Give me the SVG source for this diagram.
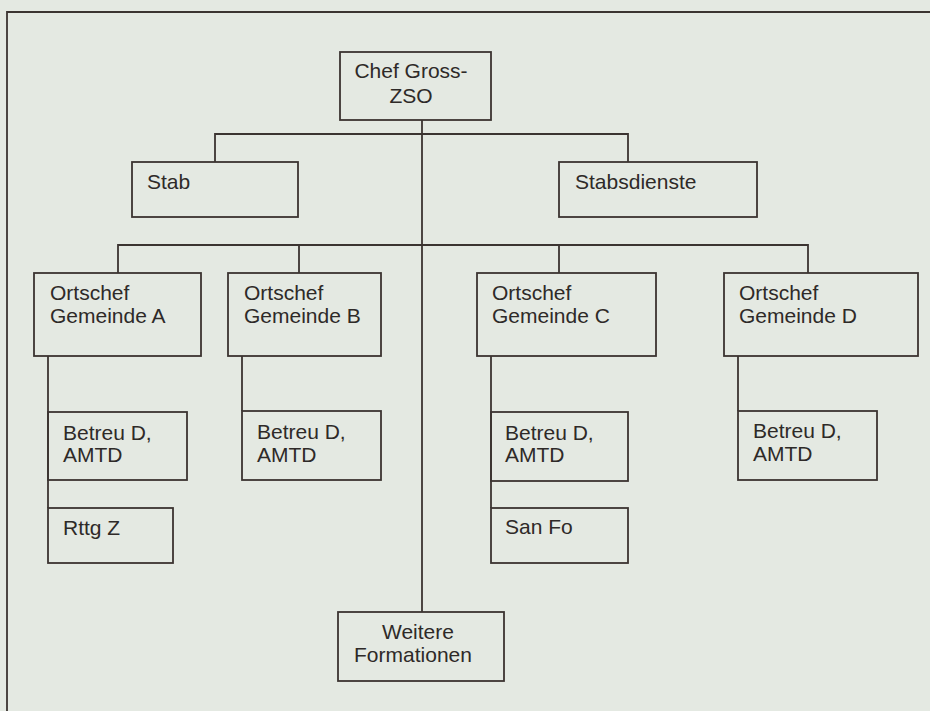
<svg xmlns="http://www.w3.org/2000/svg" width="930" height="711" viewBox="0 0 930 711">
<style>
.box{fill:none;stroke:#3b3431;stroke-width:1.8}
.ln{fill:none;stroke:#3b3431;stroke-width:1.8}
text{font-family:"Liberation Sans",Arial,sans-serif;font-size:21px;fill:#2e2a28}
.c{text-anchor:middle}
</style>
<rect x="0" y="0" width="930" height="711" fill="#e4e9e2"/>
<path class="ln" d="M7 711 V12 H930" stroke="#4a4a4a"/>
<g id="connectors">
<path class="ln" d="M422 120 V612"/>
<path class="ln" d="M215 162 V134 H628 V162"/>
<path class="ln" d="M118 273 V245 H808 V273 M299 245 V273 M559 245 V273"/>
<path class="ln" d="M48 356 V508"/>
<path class="ln" d="M242 356 V411"/>
<path class="ln" d="M491 356 V508"/>
<path class="ln" d="M738 356 V411"/>
</g>
<g id="chef"><rect class="box" x="340" y="52" width="151" height="68"/><text x="411" y="78" class="c">Chef Gross-</text><text x="411" y="103" class="c">ZSO</text></g>
<g id="stab"><rect class="box" x="132" y="162" width="166" height="55"/><text x="147" y="189">Stab</text></g>
<g id="stabsdienste"><rect class="box" x="559" y="162" width="198" height="55"/><text x="575" y="189">Stabsdienste</text></g>
<g id="ortschefA"><rect class="box" x="34" y="273" width="167" height="83"/><text x="50" y="300">Ortschef</text><text x="50" y="323">Gemeinde A</text></g>
<g id="ortschefB"><rect class="box" x="228" y="273" width="153" height="83"/><text x="244" y="300">Ortschef</text><text x="244" y="323">Gemeinde B</text></g>
<g id="ortschefC"><rect class="box" x="477" y="273" width="179" height="83"/><text x="492" y="300">Ortschef</text><text x="492" y="323">Gemeinde C</text></g>
<g id="ortschefD"><rect class="box" x="724" y="273" width="194" height="83"/><text x="739" y="300">Ortschef</text><text x="739" y="323">Gemeinde D</text></g>
<g id="betreuA"><rect class="box" x="48" y="412" width="139" height="68"/><text x="63" y="440">Betreu D,</text><text x="63" y="462">AMTD</text></g>
<g id="rttgZ"><rect class="box" x="48" y="508" width="125" height="55"/><text x="63" y="535">Rttg Z</text></g>
<g id="betreuB"><rect class="box" x="242" y="411" width="139" height="69"/><text x="257" y="439">Betreu D,</text><text x="257" y="462">AMTD</text></g>
<g id="betreuC"><rect class="box" x="491" y="412" width="137" height="69"/><text x="505" y="440">Betreu D,</text><text x="505" y="462">AMTD</text></g>
<g id="sanFo"><rect class="box" x="491" y="508" width="137" height="55"/><text x="505" y="534">San Fo</text></g>
<g id="betreuD"><rect class="box" x="738" y="411" width="139" height="69"/><text x="753" y="438">Betreu D,</text><text x="753" y="461">AMTD</text></g>
<g id="weitere"><rect class="box" x="338" y="612" width="166" height="69"/><text x="418" y="639" class="c">Weitere</text><text x="413" y="662" class="c">Formationen</text></g>
</svg>
